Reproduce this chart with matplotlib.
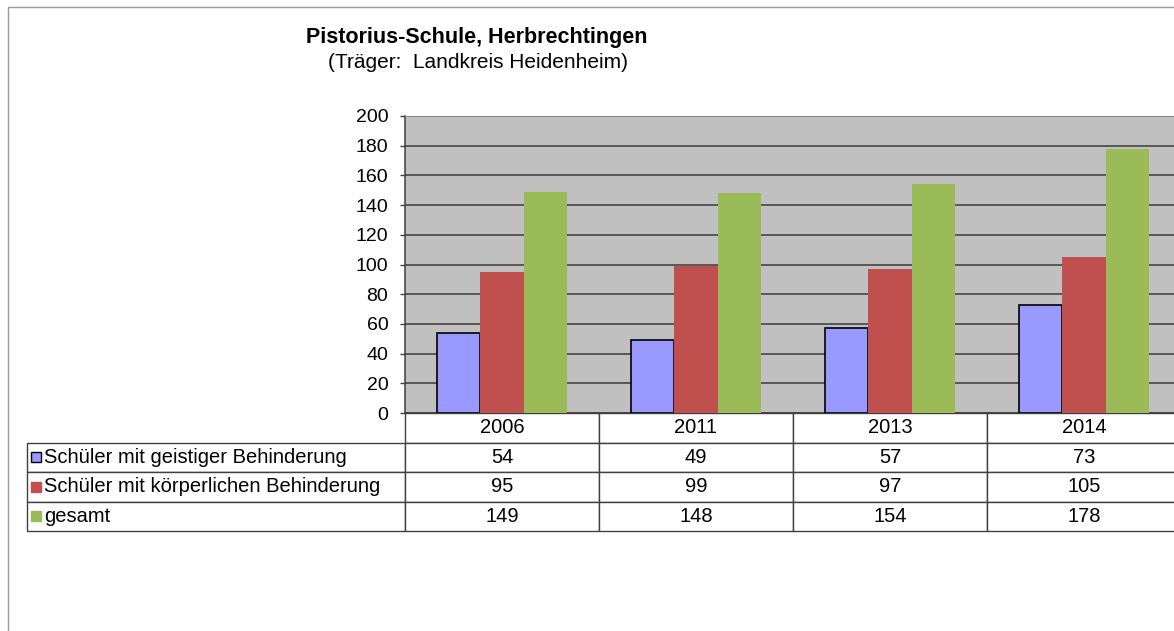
import numpy as np
import matplotlib
matplotlib.use("Agg")
import matplotlib.pyplot as plt
from matplotlib.patches import Rectangle
from matplotlib.table import Table

plt.rcParams['font.family'] = ['Liberation Sans', 'DejaVu Sans']

# data
years = ['2006', '2011', '2013', '2014']
geistig = [54, 49, 57, 73]
koerper = [95, 99, 97, 105]
gesamt = [149, 148, 154, 178]

series_names = ['Schüler mit geistiger Behinderung',
                'Schüler mit körperlichen Behinderung',
                'gesamt']
series_values = [geistig, koerper, gesamt]
colors = ['#9999FF', '#C0504D', '#9BBB59']
edges = ['black', 'none', 'none']

W, H = 1174, 631
fig = plt.figure(figsize=(W / 100, H / 100), dpi=100)

# outer chart frame (cut off on the right and bottom)
fig.patches.append(Rectangle((8 / W, -0.1), 2, (H - 7) / H + 0.1,
                             transform=fig.transFigure, fill=False,
                             edgecolor='#9a9a9a', linewidth=1.0))

# plot area in pixels: left 405, top 116, bottom 413, 194 px per category
ax = fig.add_axes([405 / W, (H - 413) / H, 776 / W, 297 / H])
ax.set_facecolor('#C0C0C0')

x = np.arange(len(years))
bar_w = 0.222
for i, (vals, c, ec) in enumerate(zip(series_values, colors, edges)):
    ax.bar(x + (i - 1) * bar_w, vals, width=bar_w, color=c,
           edgecolor=ec, linewidth=1.2, zorder=3)

ax.set_xlim(-0.5, len(years) - 0.5)
ax.set_ylim(0, 200)
ax.set_yticks(np.arange(0, 201, 20))
ax.set_xticks([])
ax.tick_params(axis='y', labelsize=14, length=3.6, width=1, color='#404040',
               pad=8.4, labelcolor='black')
ax.yaxis.grid(True, color='#3a3a3a', linewidth=1.1)
ax.set_axisbelow(True)
for s in ['left', 'bottom']:
    ax.spines[s].set_color('#404040')
    ax.spines[s].set_linewidth(1.1)
ax.spines['top'].set_color('#8a8a8a')
ax.spines['right'].set_visible(False)

# data table below the plot
lab_w = 378 / 776
tab_h = 118 / 297
row_h = tab_h / 4
tbl = Table(ax, bbox=[-lab_w, -tab_h, 1 + lab_w, tab_h])
tbl.auto_set_font_size(False)
for j, yr in enumerate(years):
    tbl.add_cell(0, j + 1, width=0.25, height=row_h, text=yr,
                 loc='center', facecolor='white', edgecolor='#404040')
for i, (name, vals) in enumerate(zip(series_names, series_values)):
    cell = tbl.add_cell(i + 1, 0, width=lab_w, height=row_h, text=name,
                        loc='left', facecolor='white', edgecolor='#404040')
    cell.PAD = 17 / 378
    for j, v in enumerate(vals):
        tbl.add_cell(i + 1, j + 1, width=0.25, height=row_h, text=str(v),
                     loc='center', facecolor='white', edgecolor='#404040')
tbl.set_fontsize(14.5)
for cell in tbl.get_celld().values():
    cell.set_linewidth(1.0)
    cell.set_clip_on(False)
ax.add_table(tbl)

# legend keys in front of the row labels
for i, (c, ec) in enumerate(zip(colors, edges)):
    yc = -row_h * (i + 1.5)
    ax.add_patch(Rectangle((-lab_w + 4 / 776, yc - 5 / 297), 10 / 776, 10 / 297,
                           transform=ax.transAxes, facecolor=c,
                           edgecolor='black' if ec != 'none' else c,
                           linewidth=1.0, clip_on=False, zorder=5))

fig.text(477 / W, 1 - 37 / H, 'Pistorius-Schule, Herbrechtingen',
         ha='center', va='center', fontsize=15.5, fontweight='bold')
fig.text(478 / W, 1 - 63 / H, '(Träger:  Landkreis Heidenheim)',
         ha='center', va='center', fontsize=15)

fig.savefig('out.png', dpi=100)
